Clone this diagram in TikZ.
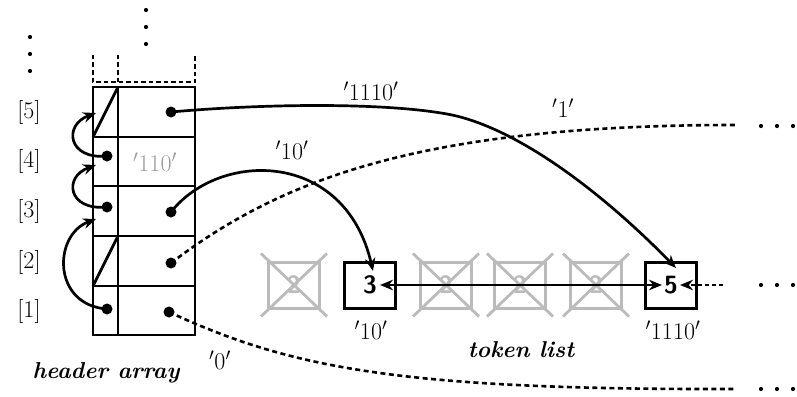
\documentclass[tikz,border=0pt]{standalone}
\usetikzlibrary{arrows.meta,calc}
\definecolor{ghost}{HTML}{BBBBBB}
\definecolor{ghosttext}{HTML}{9A9A9A}
\newcommand{\pr}{\ensuremath{'}}
\begin{document}
\begin{tikzpicture}[x=1pt,y=-1pt,
  grid/.style={line width=2.7pt},
  dot/.style={circle,fill=black,inner sep=0pt,minimum size=11pt},
  tdot/.style={circle,fill=black,inner sep=0pt,minimum size=4.2pt},
  tok/.style={draw,line width=3pt,minimum width=51pt,minimum height=46pt,inner sep=0pt,font=\fontsize{25}{25}\selectfont\sffamily\bfseries},
  ghostbox/.style={tok,draw=ghost,text=ghost},
  lbl/.style={font=\fontsize{24}{28}\selectfont},
  ttl/.style={font=\fontsize{23}{27}\selectfont\bfseries\itshape},
  tip/.style={-{Stealth[length=13pt,width=10.5pt]}},
  link/.style={line width=2.7pt,tip},
  dlink/.style={line width=2.6pt,dash pattern=on 5pt off 3.5pt},
  dotted link/.style={line width=2.6pt,dash pattern=on 4pt off 3pt}
]
\useasboundingbox (0,0) rectangle (797,396);

% header array grid
\draw[grid] (93,87) rectangle (195,335);
\foreach \yy in {137,186,236,286} \draw[grid] (93,\yy) -- (195,\yy);
\draw[grid] (118,87) -- (118,335);
\draw[grid] (93,137) -- (118,87);
\draw[grid] (93,286) -- (118,236);
% dashed top
\draw[line width=2.4pt,dash pattern=on 4.5pt off 3pt] (93,55) -- (93,82) -- (195,82) -- (195,55);
\draw[line width=2.4pt,dash pattern=on 4.5pt off 3pt] (118,55) -- (118,82);
% vertical dots
\foreach \yy in {37,54,71} \node[tdot] at (30,\yy) {};
\foreach \yy in {10,27,44} \node[tdot] at (146,\yy) {};

% row labels
\node[lbl] (r5) at (29,112) {[5]};
\node[lbl] (r4) at (29,161) {[4]};
\node[lbl] (r3) at (29,211) {[3]};
\node[lbl] (r2) at (29,262) {[2]};
\node[lbl] (r1) at (29,311) {[1]};

% dots in header
\node[dot] (h5r) at (171,112) {};
\node[dot] (h4l) at (107,156) {};
\node[lbl,text=ghosttext] (h4t) at (155,162) {\pr110\pr};
\node[dot] (h3l) at (107,207) {};
\node[dot] (h3r) at (171,212) {};
\node[dot] (h2r) at (171,263) {};
\node[dot] (h1l) at (107,309) {};
\node[dot] (h1r) at (169,312) {};

\coordinate (t5) at (96,113);
\coordinate (t4) at (96,165);
\coordinate (t3) at (96,219);
\draw[link] (h4l.center) .. controls (68,160) and (63,125) .. (t5);
\draw[link] (h3l.center) .. controls (68,211) and (63,177) .. (t4);
\draw[link] (h1l.center) .. controls (52,305) and (53,235) .. (t3);

% token list
\foreach \n/\xx in {g1/294,g3/446,g4/520,g5/596}{
  \node[ghostbox] (\n) at (\xx,285) {2};
  \draw[ghost,line width=2.8pt] ($(\n.south west)+(-6,7)$) -- ($(\n.north east)+(6,-7)$);
  \draw[ghost,line width=2.8pt] ($(\n.north west)+(-6,-7)$) -- ($(\n.south east)+(6,7)$);
}
\node[tok] (b3) at (370,285) {3};
\node[tok] (b5) at (671,285) {5};

\coordinate (b3in) at (373,271);
\coordinate (b5in) at (676,268);
\draw[line width=2.7pt,{Stealth[length=13pt,width=10.5pt]}-{Stealth[length=13pt,width=10.5pt]}] ($(b3.center)+(10,0)$) -- ($(b5.center)+(-9,0)$);
\coordinate (rin) at (723,285);
\draw[dotted link,tip] (rin) -- ($(b5.center)+(9,0)$);
\foreach \xx in {761,777,793} \node[tdot] at (\xx,285) {};

% links from header
\draw[link] (h5r.center) .. controls (260,104) and (380,102) .. (447,114)
   .. controls (514,126) and (600,190) .. (b5in);
\draw[link] (h3r.center) .. controls (220,150) and (345,150) .. (b3in);
\coordinate (e1) at (735,125);
\coordinate (e0) at (735,389);
\draw[dlink] (h2r.center) .. controls (280,180) and (420,125) .. (e1);
\draw[dlink] (h1r.center) .. controls (290,368) and (400,390) .. (e0);
\foreach \xx in {761,777,793} \node[tdot] at (\xx,126) {};
\foreach \xx in {761,777,793} \node[tdot] at (\xx,389) {};

% labels
\node[lbl] (l1110) at (371,91) {\pr1110\pr};
\node[lbl] (l1) at (563,108) {\pr1\pr};
\node[lbl] (l10) at (292,150) {\pr10\pr};
\node[lbl] (l0) at (220,360) {\pr0\pr};
\node[lbl] (u10) at (371,330) {\pr10\pr};
\node[lbl] (u1110) at (673,330) {\pr1110\pr};
\node[ttl] (tl) at (521,350) {token list};
\node[ttl] (ha) at (106,373) {header array};
\end{tikzpicture}
\end{document}
